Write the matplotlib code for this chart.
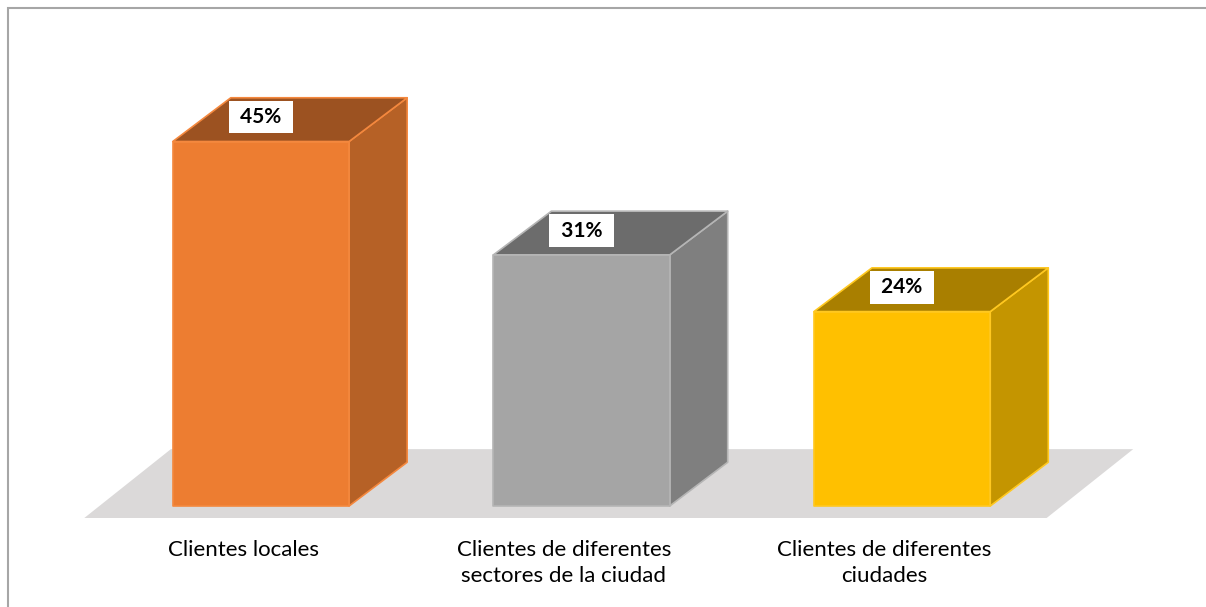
import matplotlib.pyplot as plt
from matplotlib.patches import Polygon, Rectangle

categories = ["Clientes locales",
              "Clientes de diferentes\nsectores de la ciudad",
              "Clientes de diferentes\nciudades"]
values = [45, 31, 24]
labels = ["45%", "31%", "24%"]

front_colors = ["#ED7D31", "#A5A5A5", "#FFC000"]
top_colors = ["#9C5221", "#6C6C6C", "#A97F00"]
side_colors = ["#B66126", "#7F7F7F", "#C49500"]
edge_colors = ["#F4883E", "#B5B5B5", "#FFC820"]

# geometry in data units (x = category index, y = percent)
width = 0.55
depth_x, depth_y = 0.181, 5.4
floor_x, floor_y = 0.27, 8.5

fig = plt.figure(figsize=(12.06, 6.07), dpi=100)
ax = fig.add_axes([0, 0, 1, 1])
ax.set_xlim(-0.814, 2.948)
ax.set_ylim(-12.47, 62.47)
ax.axis("off")

# chart border
fig.patches.append(Rectangle((8 / 1206, -0.1), 1.2, 1 - 8 / 607 + 0.1,
                             transform=fig.transFigure, fill=False,
                             edgecolor="#A6A6A6", linewidth=1.5))

# floor
n = len(values)
x0 = -width / 2 - 0.276
x1 = n - 1 + width / 2 + 0.176
fy = -1.48
ax.add_patch(Polygon([(x0, fy), (x1, fy), (x1 + floor_x, fy + floor_y),
                      (x0 + floor_x, fy + floor_y)],
                     closed=True, facecolor="#DBD9D9", edgecolor="none"))

for i, v in enumerate(values):
    l, r = i - width / 2, i + width / 2
    front = [(l, 0), (r, 0), (r, v), (l, v)]
    top = [(l, v), (r, v), (r + depth_x, v + depth_y), (l + depth_x, v + depth_y)]
    side = [(r, 0), (r + depth_x, depth_y), (r + depth_x, v + depth_y), (r, v)]
    for poly, fc in [(side, side_colors[i]), (top, top_colors[i]), (front, front_colors[i])]:
        ax.add_patch(Polygon(poly, closed=True, facecolor=fc,
                             edgecolor=edge_colors[i], linewidth=1.2, joinstyle="round"))
    ax.text(i, v + 3.0, " " + labels[i] + " ", ha="center", va="center", fontsize=15,
            fontweight="bold", family="Lato", color="black",
            bbox=dict(boxstyle="square,pad=0.3", facecolor="white", edgecolor="none"))
    ax.text(i - 0.055, -4.2, categories[i], ha="center", va="top", fontsize=16,
            family="Lato", color="black", linespacing=1.35)

fig.savefig("out.png", dpi=100)
